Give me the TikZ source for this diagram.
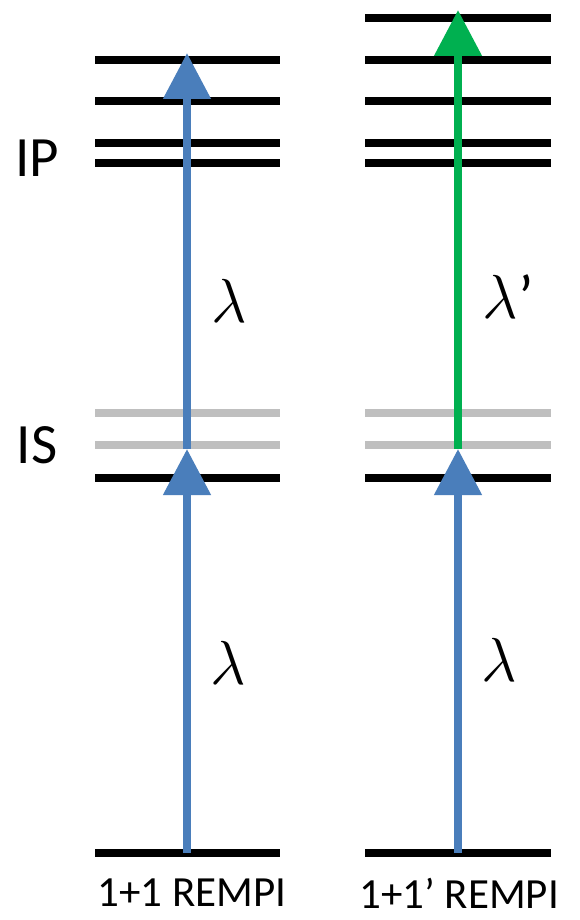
\documentclass[tikz,border=0pt]{standalone}
\usepackage{fontspec}
\setmainfont{Carlito}
\usetikzlibrary{arrows.meta}
\definecolor{levelInk}{RGB}{0,0,0}
\definecolor{virtualGray}{RGB}{191,191,191}
\definecolor{pumpBlue}{RGB}{74,126,187}
\definecolor{probeGreen}{RGB}{0,176,80}
\tikzset{
  level/.style={draw=levelInk, line width=8pt},
  virtual/.style={draw=virtualGray, line width=8pt},
  photon/.style={line width=8pt, -{Triangle[length=46pt, width=46pt]}},
  pump/.style={photon, draw=pumpBlue, fill=pumpBlue},
  probe/.style={photon, draw=probeGreen, fill=probeGreen},
  wavelength/.style={font=\Huge, scale=2.5, inner sep=0pt},
  statelabel/.style={font=\fontsize{57}{57}\selectfont, inner sep=0pt},
  scheme/.style={font=\fontsize{43}{43}\selectfont, inner sep=0pt}
}
\begin{document}
\begin{tikzpicture}[x=1pt, y=-1pt]
  \useasboundingbox[fill=white] (0,0) rectangle (579,920);

  % 1+1 REMPI levels
  \foreach \y in {60,101,143,163,478,853}
    \draw[level] (95,\y) -- (280,\y);
  \foreach \y in {413,445}
    \draw[virtual] (95,\y) -- (280,\y);

  % 1+1' REMPI levels
  \foreach \y in {18,60,101,143,163,478,853}
    \draw[level] (365,\y) -- (551,\y);
  \foreach \y in {413,445}
    \draw[virtual] (365,\y) -- (551,\y);

  % arrow end points
  \coordinate (groundA) at (187,853);
  \coordinate (isA) at (187,449);
  \coordinate (ionA) at (187,53);
  \coordinate (groundB) at (458,853);
  \coordinate (isB) at (458,449);
  \coordinate (ionB) at (458,10);

  \draw[pump] (isA) -- (ionA);
  \draw[pump] (groundA) -- (isA);
  \draw[probe] (isB) -- (ionB);
  \draw[pump] (groundB) -- (isB);

  \node[statelabel] (ip) at (37,158) {IP};
  \node[statelabel] (is) at (37,445) {IS};

  \node[wavelength] (lamUpA) at (229,301) {$\lambda$};
  \node[wavelength, anchor=west] (lamUpB) at (482,297) {$\lambda$’};
  \node[wavelength] (lamLowA) at (228,663) {$\lambda$};
  \node[wavelength] (lamLowB) at (499,660) {$\lambda$};

  \node[scheme] (schemeA) at (192,893) {1+1 REMPI};
  \node[scheme] (schemeB) at (459,893) {1+1’ REMPI};
\end{tikzpicture}
\end{document}
